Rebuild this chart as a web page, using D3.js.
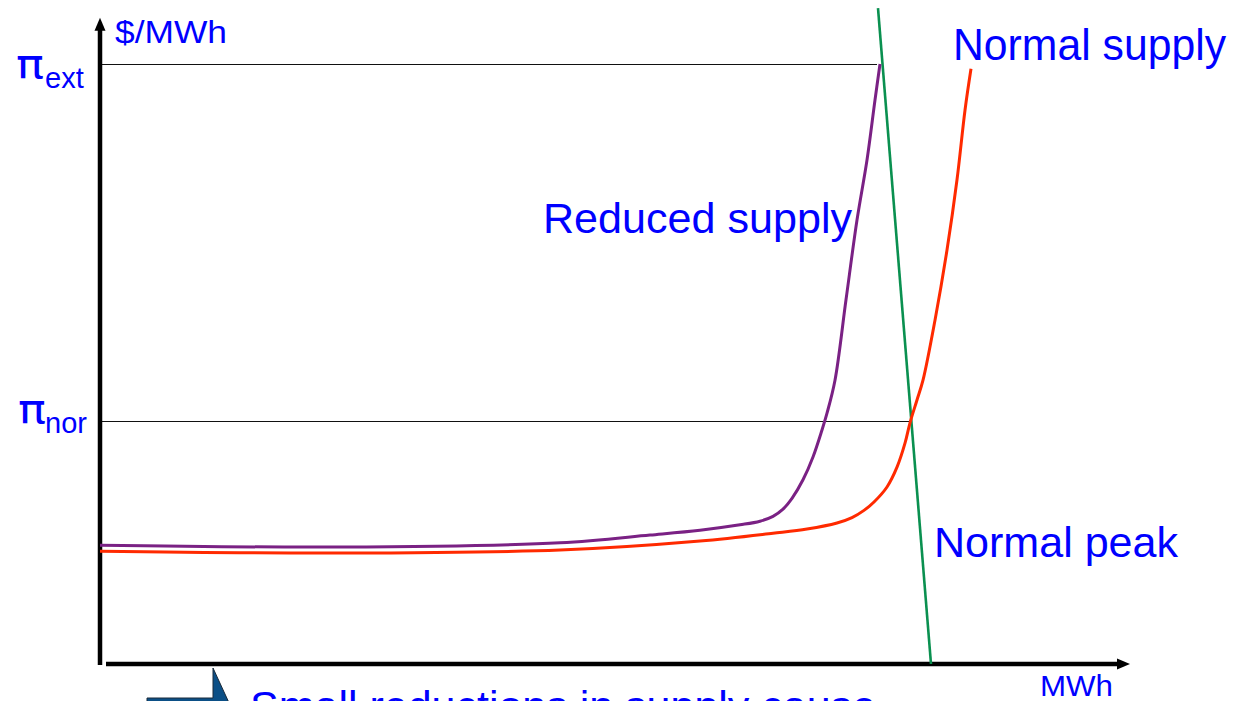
<!DOCTYPE html>
<html>
<head>
<meta charset="utf-8">
<script src="https://cdn.jsdelivr.net/npm/d3@7"></script>
<style>
  html, body { margin: 0; padding: 0; background: #ffffff; }
  svg { display: block; }
  text { font-family: "Liberation Sans", Arial, sans-serif; }
</style>
</head>
<body>
<div id="chart"></div>
<script>
// ---- data (quantity in MWh units, price in $/MWh units; pi_ext = 100) ----
const normalSupplyX = [0, 24, 46, 60, 67.3, 70.7, 73.7, 75.2, 76.4, 77.4, 78.7, 79.7, 80.5, 81, 81.7, 82.3, 83.5, 84.7, 85.7, 86.5, 87.1];
const normalSupplyY = [18.8, 18.5, 19, 20.5, 21.8, 22.5, 23.5, 24.4, 25.6, 27, 29.5, 32.8, 36.8, 40.2, 44, 47.3, 57.3, 69, 80.7, 92.3, 99.2];

const reducedSupplyX = [0, 24, 46, 55, 60, 64, 66, 67.3, 68.3, 69.2, 70.3, 71.3, 72.2, 72.7, 73.5, 74.6, 75.7, 76.7, 77.5, 78];
const reducedSupplyY = [19.8, 19.5, 20.2, 21.5, 22.3, 23.2, 23.8, 24.6, 25.8, 27.6, 30.7, 34.5, 39, 41.8, 47.3, 60.7, 74, 84, 94, 100];

const peakDemandX = [77.8, 83.1];
const peakDemandY = [109.3, 0];

const priceLevels = [100, 40.5];          // pi_ext, pi_nor
const priceLevelEnds = [77.7, 81];        // where each reference line stops
const priceSymbols = ["\u03C0", "\u03C0"];
const priceSubs = ["ext", "nor"];

const axisMaxX = 103;
const axisMaxY = 107.7;

// ---- setup ----
const W = 1235, H = 701;
const svg = d3.select("#chart").append("svg").attr("width", W).attr("height", H);

const x = d3.scaleLinear().domain([0, 103]).range([100, 1130]);
const y = d3.scaleLinear().domain([0, 100]).range([664, 64]);

const blue = "#0000ff";

// reference price lines
priceLevels.forEach((p, i) => {
  svg.append("line")
    .attr("x1", x(0) + 2).attr("x2", x(priceLevelEnds[i]))
    .attr("y1", y(p) + 0.5).attr("y2", y(p) + 0.5)
    .attr("stroke", "#111").attr("stroke-width", 1)
    .attr("shape-rendering", "crispEdges");
});

// axes
svg.append("line")
  .attr("x1", x(0)).attr("x2", x(0))
  .attr("y1", y(0) + 1).attr("y2", y(axisMaxY) + 10)
  .attr("stroke", "#000").attr("stroke-width", 4.5);
svg.append("path")
  .attr("d", `M${x(0)},${y(axisMaxY)} L${x(0) - 5.5},${y(axisMaxY) + 13} L${x(0) + 5.5},${y(axisMaxY) + 13} Z`)
  .attr("fill", "#000");

svg.append("line")
  .attr("x1", x(0) + 6).attr("x2", x(axisMaxX) - 10)
  .attr("y1", y(0)).attr("y2", y(0))
  .attr("stroke", "#000").attr("stroke-width", 4.5);
svg.append("path")
  .attr("d", `M${x(axisMaxX)},${y(0)} L${x(axisMaxX) - 13},${y(0) - 5.5} L${x(axisMaxX) - 13},${y(0) + 5.5} Z`)
  .attr("fill", "#000");

// curves
const line = d3.line().x(d => x(d[0])).y(d => y(d[1])).curve(d3.curveCatmullRom.alpha(0.5));
const straight = d3.line().x(d => x(d[0])).y(d => y(d[1]));

svg.append("path")
  .datum(peakDemandX.map((v, i) => [v, peakDemandY[i]]))
  .attr("d", straight)
  .attr("fill", "none").attr("stroke", "#0a9050").attr("stroke-width", 2.6);

svg.append("path")
  .datum(reducedSupplyX.map((v, i) => [v, reducedSupplyY[i]]))
  .attr("d", line)
  .attr("fill", "none").attr("stroke", "#7a2184").attr("stroke-width", 3);

svg.append("path")
  .datum(normalSupplyX.map((v, i) => [v, normalSupplyY[i]]))
  .attr("d", line)
  .attr("fill", "none").attr("stroke", "#ff2a00").attr("stroke-width", 3);

// price labels
const symX = [16, 18], subX = [45, 45];
const symBase = [78, 423], subBase = [88, 433];
priceLevels.forEach((p, i) => {
  svg.append("text").attr("x", symX[i]).attr("y", symBase[i])
    .attr("font-size", 40).attr("fill", blue)
    .style("font-family", "'DejaVu Sans', sans-serif")
    .attr("textLength", 28).attr("lengthAdjust", "spacingAndGlyphs")
    .text(priceSymbols[i]);
  svg.append("text").attr("x", subX[i]).attr("y", subBase[i])
    .attr("font-size", 29).attr("fill", blue).text(priceSubs[i]);
});

// other labels
function label(txt, px, py, size, len) {
  svg.append("text").attr("x", px).attr("y", py)
    .attr("font-size", size).attr("fill", blue)
    .attr("textLength", len).attr("lengthAdjust", "spacingAndGlyphs")
    .text(txt);
}
label("$/MWh", 115, 43, 31, 112);
label("MWh", 1040, 696, 30, 73);
label("Normal supply", 953, 60, 44, 273);
label("Reduced supply", 543, 233, 43, 309);
label("Normal peak", 934, 557, 43, 244);

// bottom note (cut off by the frame)
svg.append("path")
  .attr("d", "M147,698 L213,698 L213,668 L236,718 L213,768 L213,738 L147,738 Z")
  .attr("fill", "#0b4f86").attr("stroke", "#1a2a3a").attr("stroke-width", 1);
label("Small reductions in supply cause", 250, 721, 43, 626);
</script>
</body>
</html>
